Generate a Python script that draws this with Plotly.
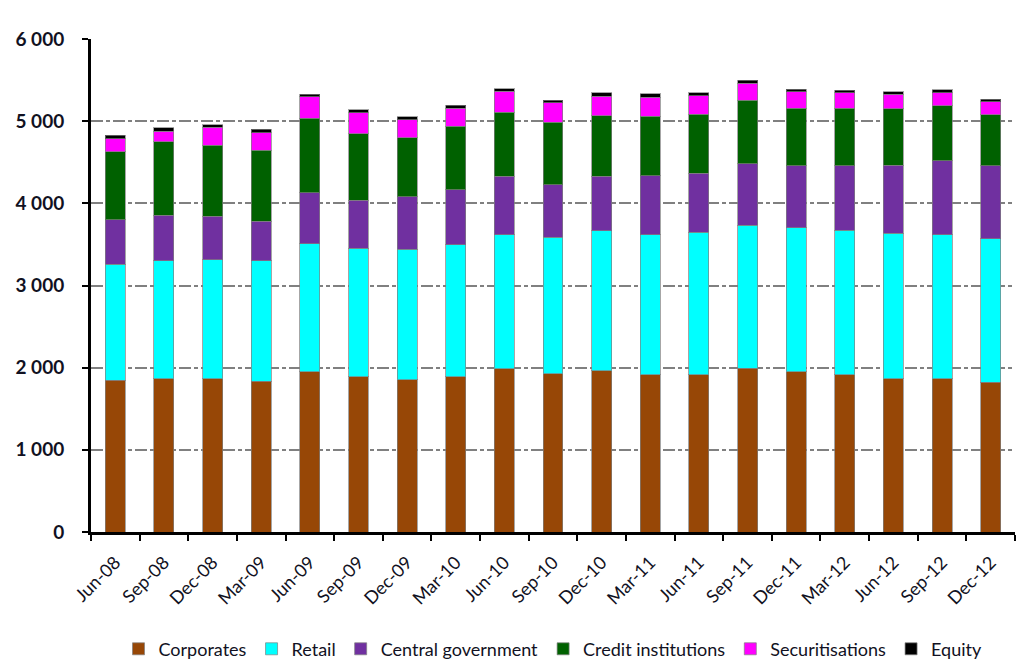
import plotly.graph_objects as go

quarters = ["Jun-08", "Sep-08", "Dec-08", "Mar-09", "Jun-09", "Sep-09", "Dec-09",
            "Mar-10", "Jun-10", "Sep-10", "Dec-10", "Mar-11", "Jun-11", "Sep-11",
            "Dec-11", "Mar-12", "Jun-12", "Sep-12", "Dec-12"]

corporates = [1844, 1868, 1868, 1837, 1948, 1892, 1856, 1892, 1988, 1928,
              1964, 1916, 1916, 1993, 1948, 1916, 1868, 1868, 1820]
retail = [1412, 1432, 1448, 1467, 1560, 1564, 1588, 1604, 1632, 1660,
          1700, 1704, 1732, 1739, 1752, 1756, 1768, 1752, 1752]
central_gov = [544, 552, 524, 480, 620, 580, 636, 672, 712, 640,
               668, 716, 720, 748, 756, 784, 828, 900, 888]
credit_inst = [828, 896, 868, 864, 908, 812, 716, 768, 776, 756,
               736, 724, 716, 772, 704, 704, 688, 668, 620]
securitisations = [160, 132, 216, 212, 260, 256, 224, 224, 256, 240,
                   236, 232, 224, 212, 200, 184, 176, 156, 156]
equity = [40, 40, 32, 44, 32, 32, 36, 36, 32, 32,
          40, 40, 36, 36, 28, 32, 32, 40, 28]

series = [
    ("Corporates", corporates, "#974706"),
    ("Retail", retail, "#00FFFF"),
    ("Central government", central_gov, "#7030A0"),
    ("Credit institutions", credit_inst, "#006100"),
    ("Securitisations", securitisations, "#FF00FF"),
    ("Equity", equity, "#000000"),
]

FONT = "Lato"
TXT = "#111122"

fig = go.Figure()
for name, vals, col in series:
    fig.add_trace(go.Bar(
        x=quarters, y=vals, name=name,
        marker=dict(color=col, line=dict(color="rgba(128,128,128,0.7)", width=1)),
    ))

fig.update_layout(
    barmode="stack",
    bargap=0.59,
    width=1024, height=672,
    margin=dict(l=83, r=17, t=31, b=140),
    plot_bgcolor="white", paper_bgcolor="white",
    separators=". ",
    font=dict(family=FONT, color=TXT, size=16),
    legend=dict(orientation="h", x=0.5, xanchor="center", y=-0.2, yanchor="top",
                font=dict(size=18, family=FONT), itemwidth=30, traceorder="normal"),
)
fig.update_xaxes(
    type="category", automargin=False,
    showline=True, linecolor="black", linewidth=3,
    ticks="outside", tickson="boundaries", ticklen=6, tickwidth=2, tickcolor="black",
    tickangle=-45, tickfont=dict(size=18, family=FONT), ticklabelstandoff=10,
    showgrid=False,
)
fig.update_yaxes(
    range=[0, 6000], dtick=1000, tickformat=",d", automargin=False,
    showline=True, linecolor="black", linewidth=3,
    ticks="outside", ticklen=6, tickwidth=2, tickcolor="black",
    tickfont=dict(size=19, family=FONT, weight="bold"), ticklabelstandoff=14,
    showgrid=True, gridcolor="#808080", gridwidth=2, griddash="12px,3px,4px,3px",
    zeroline=False,
)

fig.write_html("out.html")
